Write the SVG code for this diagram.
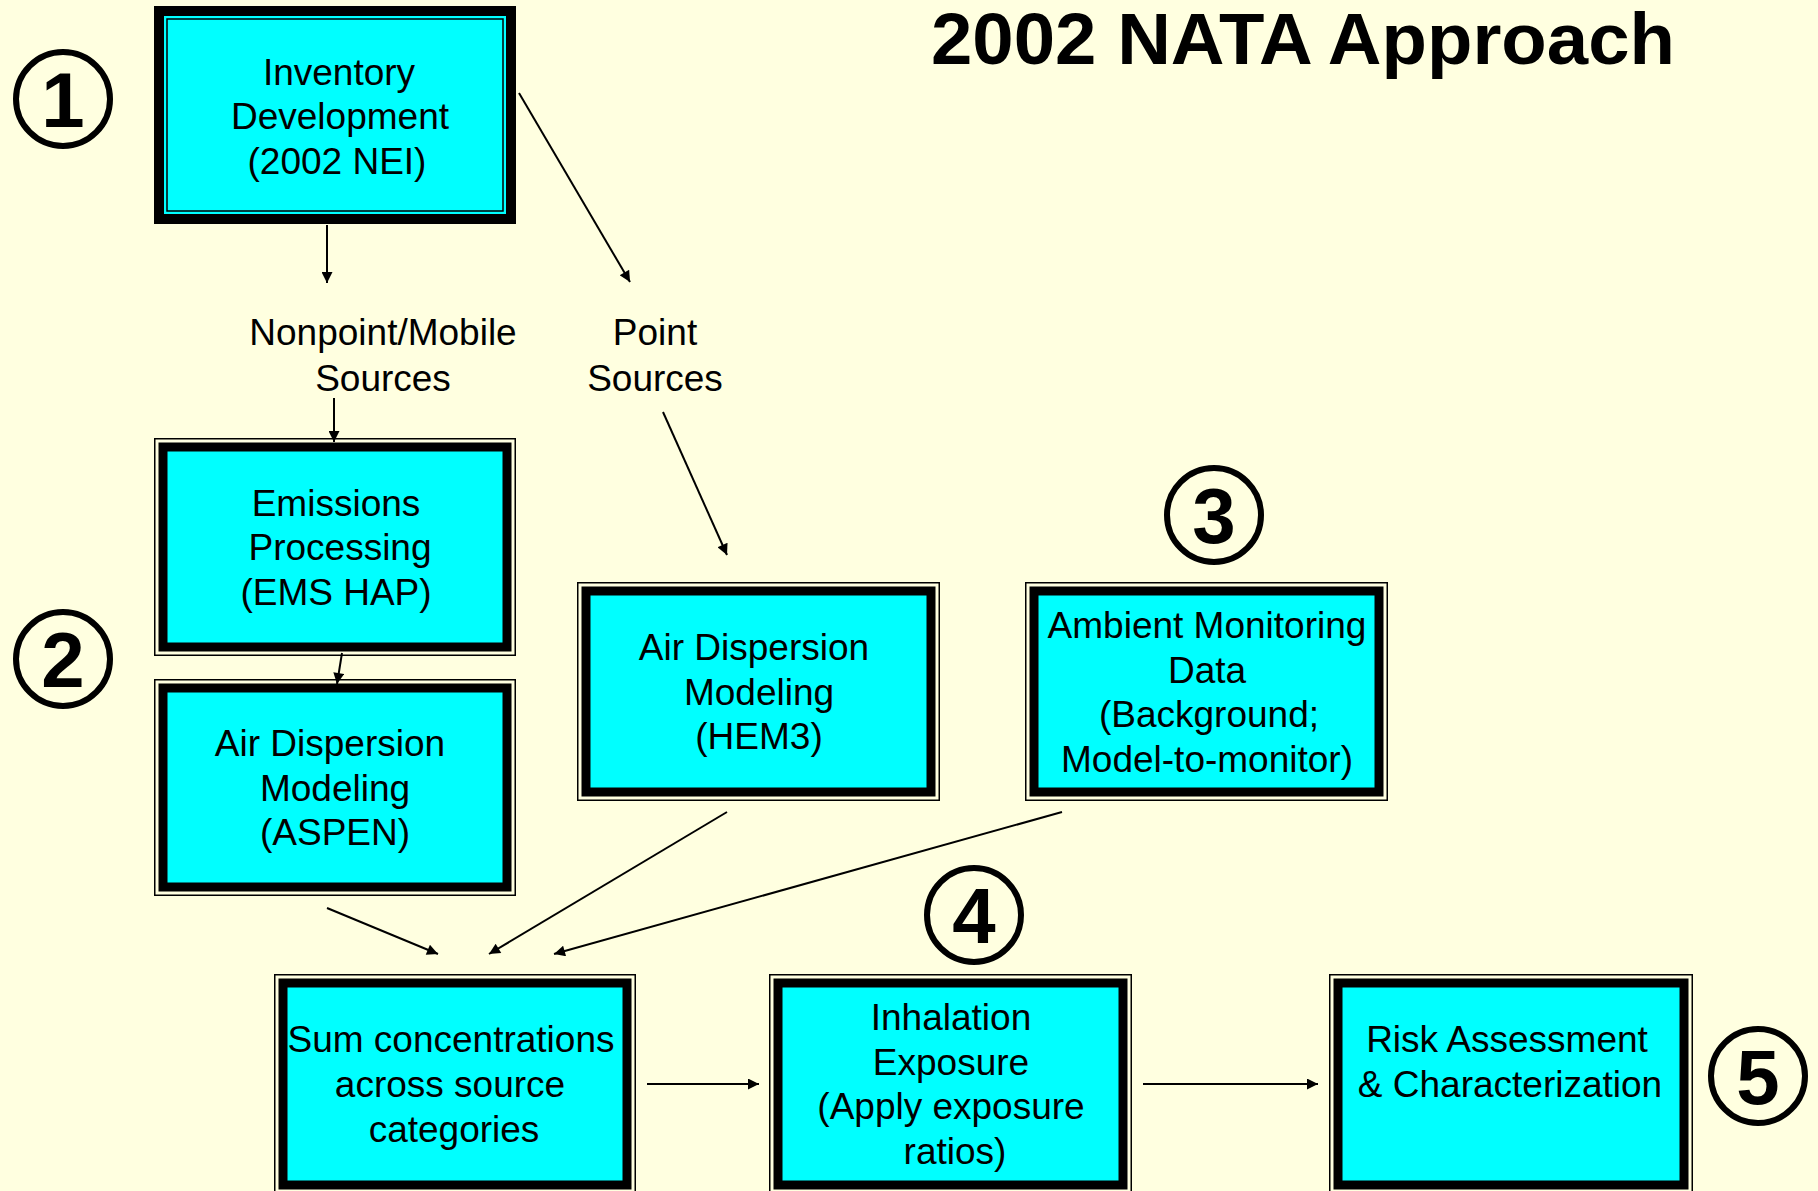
<svg xmlns="http://www.w3.org/2000/svg" width="1818" height="1191" viewBox="0 0 1818 1191">
<style>
.t{font-family:"Liberation Sans",Arial,sans-serif;font-size:37px;fill:#000;text-anchor:middle}
.num{font-family:"Liberation Sans",Arial,sans-serif;font-size:78px;font-weight:bold;fill:#000;text-anchor:middle}
.ring{fill:none;stroke:#000;stroke-width:6}
.outer{fill:none;stroke:#000;stroke-width:1.5}
.band{fill:#00FFFF;stroke:#000;stroke-width:9}
.thin{fill:none;stroke:#000;stroke-width:1.5}
.c{stroke:#000;stroke-width:2;fill:none;marker-end:url(#ah)}
</style>
<defs>
<marker id="ah" viewBox="0 0 10 10" refX="10" refY="5" markerWidth="14" markerHeight="11" markerUnits="userSpaceOnUse" orient="auto">
<path d="M0,0 L10,5 L0,10 z" fill="#000"/>
</marker>
</defs>
<rect width="1818" height="1191" fill="#FFFFE0"/>
<text x="1303" y="64" font-family="Liberation Sans,Arial,sans-serif" font-size="73" font-weight="bold" text-anchor="middle" textLength="744" lengthAdjust="spacingAndGlyphs">2002 NATA Approach</text>

<g id="step1"><circle class="ring" cx="63" cy="99" r="47"/><text class="num" x="63" y="127">1</text></g>
<g id="step2"><circle class="ring" cx="63" cy="659" r="47"/><text class="num" x="63" y="687">2</text></g>
<g id="step3"><circle class="ring" cx="1214" cy="515" r="47"/><text class="num" x="1214" y="543">3</text></g>
<g id="step4"><circle class="ring" cx="974" cy="915" r="47"/><text class="num" x="974" y="943">4</text></g>
<g id="step5"><circle class="ring" cx="1758" cy="1076" r="47"/><text class="num" x="1758" y="1104">5</text></g>

<g id="inventory">
<rect x="159" y="11" width="352" height="208" fill="#00FFFF" stroke="#000" stroke-width="10"/>
<rect class="thin" x="167" y="19" width="336" height="192"/>
<text class="t" x="339" y="85">Inventory</text>
<text class="t" x="340" y="129">Development</text>
<text class="t" x="337" y="174">(2002 NEI)</text>
</g>

<g id="label-nonpoint">
<text class="t" x="383" y="345">Nonpoint/Mobile</text>
<text class="t" x="383" y="391">Sources</text>
</g>
<g id="label-point">
<text class="t" x="655" y="345">Point</text>
<text class="t" x="655" y="391">Sources</text>
</g>

<g id="emissions">
<rect class="outer" x="154.75" y="438.75" width="360.5" height="216.5"/>
<rect class="band" x="163" y="447" width="344" height="200"/>
<text class="t" x="336" y="516">Emissions</text>
<text class="t" x="340" y="560">Processing</text>
<text class="t" x="336" y="605">(EMS HAP)</text>
</g>

<g id="aspen">
<rect class="outer" x="154.75" y="679.75" width="360.5" height="215.5"/>
<rect class="band" x="163" y="688" width="344" height="199"/>
<text class="t" x="330" y="756">Air Dispersion</text>
<text class="t" x="335" y="801">Modeling</text>
<text class="t" x="335" y="845">(ASPEN)</text>
</g>

<g id="hem3">
<rect class="outer" x="577.75" y="582.75" width="361.5" height="217.5"/>
<rect class="band" x="586" y="591" width="345" height="201"/>
<text class="t" x="754" y="660">Air Dispersion</text>
<text class="t" x="759" y="705">Modeling</text>
<text class="t" x="759" y="749">(HEM3)</text>
</g>

<g id="ambient">
<rect class="outer" x="1025.75" y="582.75" width="361.5" height="217.5"/>
<rect class="band" x="1034" y="591" width="345" height="201"/>
<text class="t" x="1207" y="638">Ambient Monitoring</text>
<text class="t" x="1207" y="683">Data</text>
<text class="t" x="1209" y="727">(Background;</text>
<text class="t" x="1207" y="772">Model-to-monitor)</text>
</g>

<g id="sum">
<rect class="outer" x="274.75" y="974.75" width="360.5" height="218"/>
<rect class="band" x="283" y="983" width="344" height="202"/>
<text class="t" x="451" y="1052">Sum concentrations</text>
<text class="t" x="450" y="1097">across source</text>
<text class="t" x="454" y="1142">categories</text>
</g>

<g id="inhalation">
<rect class="outer" x="769.75" y="974.75" width="361.5" height="218"/>
<rect class="band" x="778" y="983" width="345" height="202"/>
<text class="t" x="951" y="1030">Inhalation</text>
<text class="t" x="951" y="1075">Exposure</text>
<text class="t" x="951" y="1119">(Apply exposure</text>
<text class="t" x="955" y="1164">ratios)</text>
</g>

<g id="risk">
<rect class="outer" x="1329.75" y="974.75" width="362.5" height="218"/>
<rect class="band" x="1338" y="983" width="346" height="202"/>
<text class="t" x="1507" y="1052">Risk Assessment</text>
<text class="t" x="1510" y="1097">&amp; Characterization</text>
</g>

<g id="connectors">
<line class="c" x1="327" y1="225" x2="327" y2="283"/>
<line class="c" x1="519" y1="93" x2="630" y2="282"/>
<line class="c" x1="334" y1="398" x2="334" y2="442"/>
<line class="c" x1="663" y1="412" x2="727" y2="555"/>
<line class="c" x1="342" y1="653" x2="337" y2="684"/>
<line class="c" x1="327" y1="908" x2="438" y2="954"/>
<line class="c" x1="727" y1="812" x2="489" y2="954"/>
<line class="c" x1="1062" y1="812" x2="554" y2="954"/>
<line class="c" x1="647" y1="1084" x2="759" y2="1084"/>
<line class="c" x1="1143" y1="1084" x2="1318" y2="1084"/>
</g>
</svg>
